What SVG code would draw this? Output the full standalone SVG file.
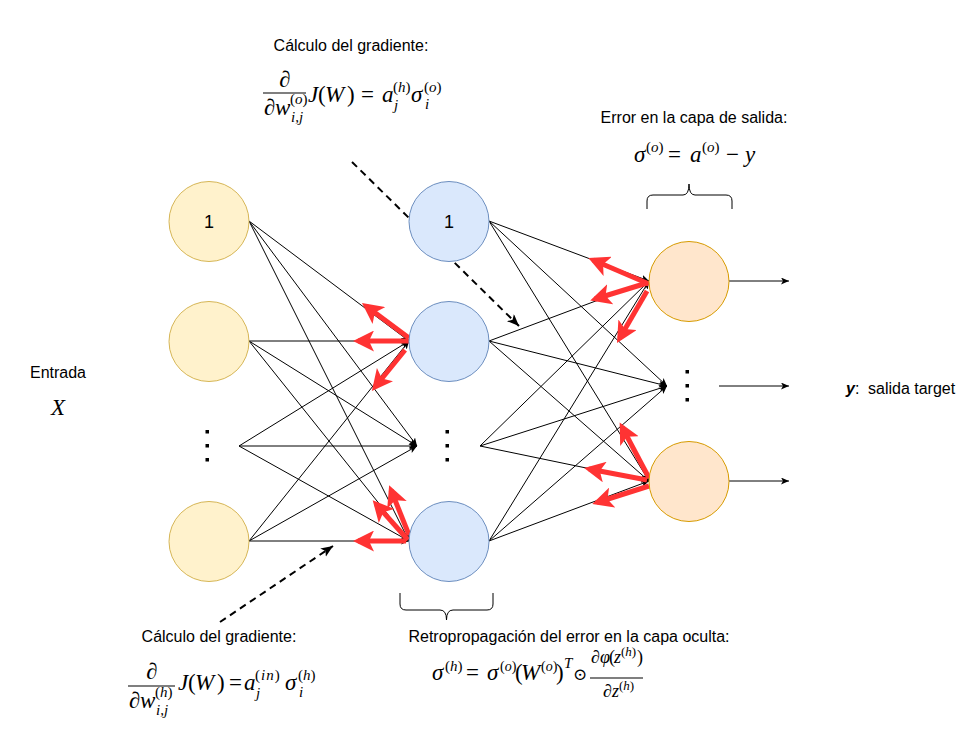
<svg xmlns="http://www.w3.org/2000/svg" width="976" height="752" viewBox="0 0 976 752">
<defs>
<style>
.lbl{font-family:"Liberation Sans",Arial,sans-serif;font-size:16px;fill:#000}
.num{font-family:"Liberation Sans",Arial,sans-serif;font-size:18px;fill:#000}
.m{font-family:"Liberation Serif","DejaVu Serif",serif;font-size:23px;fill:#000}
.mi{font-family:"Liberation Serif","DejaVu Serif",serif;font-size:23px;font-style:italic;fill:#000}
.s{font-family:"Liberation Serif","DejaVu Serif",serif;font-size:15px;fill:#000}
.si{font-family:"Liberation Serif","DejaVu Serif",serif;font-size:15px;font-style:italic;fill:#000}
.f{font-family:"Liberation Serif","DejaVu Serif",serif;font-size:18px;fill:#000}
.fi{font-family:"Liberation Serif","DejaVu Serif",serif;font-size:18px;font-style:italic;fill:#000}
.fs{font-family:"Liberation Serif","DejaVu Serif",serif;font-size:13px;fill:#000}
.in{fill:#fff2cc;stroke:#d6b656;stroke-width:1}
.hid{fill:#dae8fc;stroke:#6c8ebf;stroke-width:1}
.out{fill:#ffe6cc;stroke:#d79b00;stroke-width:1}
.c{stroke:#000;stroke-width:1;fill:none;marker-end:url(#ah)}
.d{stroke:#000;stroke-width:2;fill:none;stroke-dasharray:7 5;marker-end:url(#ahd)}
.r{stroke:#ff3333;stroke-width:5;fill:none;marker-end:url(#ahr)}
.bar{stroke:#000;stroke-width:1.2}
.br{stroke:#000;stroke-width:1;fill:none}
</style>
<marker id="ah" markerUnits="userSpaceOnUse" markerWidth="9" markerHeight="8" refX="8" refY="3.5" orient="auto" viewBox="0 0 9 8">
<path d="M0,0 L8,3.5 L0,7 L2,3.5 Z" fill="#000"/>
</marker>
<marker id="ahd" markerUnits="userSpaceOnUse" markerWidth="13" markerHeight="11" refX="12" refY="5" orient="auto" viewBox="0 0 13 11">
<path d="M0,0 L12,5 L0,10 L3,5 Z" fill="#000"/>
</marker>
<marker id="ahr" markerUnits="userSpaceOnUse" markerWidth="22" markerHeight="21" refX="16" refY="10.5" orient="auto" viewBox="0 0 22 21">
<path d="M21,10.5 L0,0 L5,10.5 L0,21 Z" fill="#ff3333"/>
</marker>
</defs>
<rect width="976" height="752" fill="#fff"/>

<g id="connectors">
<line class="c" x1="249" y1="221" x2="409" y2="341"/>
<line class="c" x1="249" y1="221" x2="417" y2="446"/>
<line class="c" x1="249" y1="221" x2="409" y2="541"/>
<line class="c" x1="249" y1="341" x2="409" y2="341"/>
<line class="c" x1="249" y1="341" x2="417" y2="446"/>
<line class="c" x1="249" y1="341" x2="409" y2="541"/>
<line class="c" x1="239" y1="446" x2="409" y2="341"/>
<line class="c" x1="239" y1="446" x2="417" y2="446"/>
<line class="c" x1="239" y1="446" x2="409" y2="541"/>
<line class="c" x1="249" y1="541" x2="409" y2="341"/>
<line class="c" x1="249" y1="541" x2="417" y2="446"/>
<line class="c" x1="249" y1="541" x2="409" y2="541"/>

<line class="c" x1="489" y1="221" x2="649" y2="281"/>
<line class="c" x1="489" y1="221" x2="667" y2="386"/>
<line class="c" x1="489" y1="221" x2="649" y2="481"/>
<line class="c" x1="489" y1="341" x2="649" y2="281"/>
<line class="c" x1="489" y1="341" x2="667" y2="386"/>
<line class="c" x1="489" y1="341" x2="649" y2="481"/>
<line class="c" x1="480" y1="446" x2="649" y2="281"/>
<line class="c" x1="480" y1="446" x2="667" y2="386"/>
<line class="c" x1="480" y1="446" x2="649" y2="481"/>
<line class="c" x1="489" y1="541" x2="649" y2="281"/>
<line class="c" x1="489" y1="541" x2="667" y2="386"/>
<line class="c" x1="489" y1="541" x2="649" y2="481"/>

<line class="c" x1="729" y1="281" x2="789" y2="281"/>
<line class="c" x1="719" y1="386" x2="789" y2="386"/>
<line class="c" x1="729" y1="481" x2="789" y2="481"/>

<line class="d" x1="352" y1="162" x2="519" y2="326"/>
<line class="d" x1="220" y1="622" x2="333" y2="546"/>

<line class="r" x1="409" y1="338" x2="366" y2="306"/>
<line class="r" x1="409" y1="341" x2="358" y2="341"/>
<line class="r" x1="405" y1="350" x2="375" y2="387"/>
<line class="r" x1="408" y1="540" x2="376" y2="504"/>
<line class="r" x1="409" y1="535" x2="391" y2="490"/>
<line class="r" x1="406" y1="541" x2="358" y2="541"/>
<line class="r" x1="649" y1="284" x2="593" y2="260"/>
<line class="r" x1="647" y1="283" x2="595" y2="299"/>
<line class="r" x1="647" y1="291" x2="619.5" y2="338.6"/>
<line class="r" x1="649" y1="478" x2="622" y2="427"/>
<line class="r" x1="647" y1="480" x2="589" y2="469"/>
<line class="r" x1="649" y1="486" x2="597" y2="502.5"/>
</g>

<g id="input-1"><circle class="in" cx="209" cy="221.5" r="40"/><text class="num" x="209" y="228" text-anchor="middle">1</text></g>
<g id="input-2"><circle class="in" cx="209" cy="341.5" r="40"/></g>
<g id="input-dots"><rect x="205.5" y="430" width="3.5" height="3.5"/><rect x="205.5" y="444" width="3.5" height="3.5"/><rect x="205.5" y="458" width="3.5" height="3.5"/></g>
<g id="input-n"><circle class="in" cx="209" cy="541.5" r="40"/></g>

<g id="hidden-1"><circle class="hid" cx="449" cy="221.5" r="40"/><text class="num" x="449" y="228" text-anchor="middle">1</text></g>
<g id="hidden-2"><circle class="hid" cx="449" cy="341.5" r="40"/></g>
<g id="hidden-dots"><rect x="445.5" y="430" width="3.5" height="3.5"/><rect x="445.5" y="444" width="3.5" height="3.5"/><rect x="445.5" y="458" width="3.5" height="3.5"/></g>
<g id="hidden-n"><circle class="hid" cx="449" cy="541.5" r="40"/></g>

<g id="output-1"><circle class="out" cx="689" cy="281.5" r="40"/></g>
<g id="output-dots"><rect x="685.5" y="370" width="3.5" height="3.5"/><rect x="685.5" y="384" width="3.5" height="3.5"/><rect x="685.5" y="398" width="3.5" height="3.5"/></g>
<g id="output-n"><circle class="out" cx="689" cy="481.5" r="40"/></g>

<g id="entrada">
<text class="lbl" x="58" y="378" text-anchor="middle">Entrada</text>
<text class="mi" x="58" y="415" text-anchor="middle">X</text>
</g>

<g id="target">
<text class="lbl" x="846" y="394"><tspan font-weight="bold" font-style="italic">y</tspan>:</text>
<text class="lbl" x="868" y="394">salida target</text>
</g>

<g id="grad-output">
<text class="lbl" x="351" y="51" text-anchor="middle">Cálculo del gradiente:</text>
<text class="mi" x="285" y="87" text-anchor="middle">∂</text>
<line class="bar" x1="263" y1="93" x2="306" y2="93"/>
<text class="mi" x="264" y="115">∂</text>
<text class="mi" x="275" y="115">w</text>
<text class="s" x="290" y="104">(<tspan font-style="italic">o</tspan>)</text>
<text class="si" x="291" y="122">i,j</text>
<text class="mi" x="308" y="102">J</text>
<text class="m" x="318" y="102">(</text>
<text class="mi" x="325" y="102">W</text>
<text class="m" x="347" y="102">)</text>
<text class="m" x="361" y="102">=</text>
<text class="mi" x="382" y="102">a</text>
<text class="s" x="393" y="92">(<tspan font-style="italic">h</tspan>)</text>
<text class="si" x="394" y="110">j</text>
<text class="mi" x="411" y="102">σ</text>
<text class="s" x="424" y="92">(<tspan font-style="italic">o</tspan>)</text>
<text class="si" x="425" y="109">i</text>
</g>

<g id="error-output">
<text class="lbl" x="694" y="123" text-anchor="middle">Error en la capa de salida:</text>
<text class="mi" x="634" y="162">σ</text>
<text class="s" x="646" y="152">(<tspan font-style="italic">o</tspan>)</text>
<text class="m" x="668" y="162">=</text>
<text class="mi" x="690" y="162">a</text>
<text class="s" x="702" y="152">(<tspan font-style="italic">o</tspan>)</text>
<text class="m" x="726" y="162">−</text>
<text class="mi" x="745" y="162">y</text>
<path class="br" d="M647,209 V201 Q647,195 653,195 H683 Q689,195 689,184 Q689,195 695,195 H726 Q732,195 732,201 V209"/>
</g>

<g id="grad-hidden">
<text class="lbl" x="219" y="642" text-anchor="middle">Cálculo del gradiente:</text>
<text class="mi" x="152" y="679" text-anchor="middle">∂</text>
<line class="bar" x1="128" y1="686" x2="175" y2="686"/>
<text class="mi" x="129" y="708">∂</text>
<text class="mi" x="140" y="708">w</text>
<text class="s" x="155" y="697">(<tspan font-style="italic">h</tspan>)</text>
<text class="si" x="156" y="715">i,j</text>
<text class="mi" x="178" y="690">J</text>
<text class="m" x="188" y="690">(</text>
<text class="mi" x="195" y="690">W</text>
<text class="m" x="217" y="690">)</text>
<text class="m" x="229" y="690">=</text>
<text class="mi" x="244" y="690">a</text>
<text class="s" x="255" y="680">(<tspan font-style="italic" dx="1">i</tspan><tspan font-style="italic" dx="1">n</tspan><tspan dx="1">)</tspan></text>
<text class="si" x="256" y="698">j</text>
<text class="mi" x="285" y="690">σ</text>
<text class="s" x="298" y="680">(<tspan font-style="italic">h</tspan>)</text>
<text class="si" x="299" y="697">i</text>
</g>

<g id="backprop-hidden">
<path class="br" d="M400,593 V604 Q400,610 406,610 H440 Q446.5,610 446.5,620 Q446.5,610 453,610 H487 Q493,610 493,604 V593"/>
<text class="lbl" x="569" y="642" text-anchor="middle">Retropropagación del error en la capa oculta:</text>
<text class="mi" x="432" y="680">σ</text>
<text class="s" x="445" y="671">(<tspan font-style="italic">h</tspan>)</text>
<text class="m" x="466" y="680">=</text>
<text class="mi" x="487" y="680">σ</text>
<text class="fs" x="500" y="671" style="font-size:14px">(<tspan font-style="italic">o</tspan>)</text>
<text class="m" x="515" y="680">(</text>
<text class="mi" x="521" y="680">W</text>
<text class="fs" x="541" y="671" style="font-size:14px">(<tspan font-style="italic">o</tspan>)</text>
<text class="m" x="556" y="680">)</text>
<text class="si" x="564" y="668">T</text>
<text class="m" x="573" y="680" style="font-size:17px">⊙</text>
<text class="fi" x="591" y="663">∂</text>
<text class="fi" x="600" y="663">φ</text>
<text class="f" x="609" y="663">(</text>
<text class="fi" x="614" y="663">z</text>
<text class="fs" x="621" y="656">(<tspan font-style="italic">h</tspan>)</text>
<text class="f" x="637" y="663">)</text>
<line class="bar" x1="590" y1="678" x2="643" y2="678"/>
<text class="fi" x="603" y="697">∂</text>
<text class="fi" x="612" y="697">z</text>
<text class="fs" x="619" y="690">(<tspan font-style="italic">h</tspan>)</text>
</g>
</svg>
